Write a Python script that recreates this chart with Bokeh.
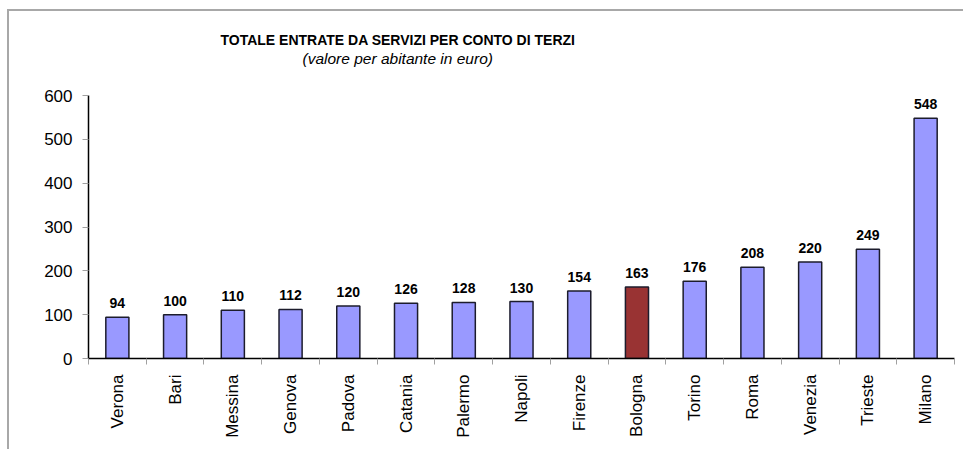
import math
from bokeh.plotting import figure
from bokeh.models import ColumnDataSource, Range1d, FixedTicker, Title
from bokeh.core.properties import value
from bokeh.embed import file_html
from bokeh.resources import INLINE

# ---- data ----
cities = ["Verona", "Bari", "Messina", "Genova", "Padova", "Catania", "Palermo",
          "Napoli", "Firenze", "Bologna", "Torino", "Roma", "Venezia", "Trieste", "Milano"]
values = [94, 100, 110, 112, 120, 126, 128, 130, 154, 163, 176, 208, 220, 249, 548]
y_ticks = [0, 100, 200, 300, 400, 500, 600]
highlight = "Bologna"

title_text = "TOTALE ENTRATE DA SERVIZI PER CONTO DI TERZI"
subtitle_text = "(valore per abitante in euro)"

FONT = "Liberation Sans"

n = len(cities)
xpos = [i + 0.5 for i in range(n)]
fills = ["#993333" if c == highlight else "#9999FF" for c in cities]

src = ColumnDataSource(dict(x=xpos, top=values, fill=fills,
                            label=[str(v) for v in values]))

p = figure(width=956, height=440, output_backend="svg", toolbar_location=None,
           x_range=Range1d(0, n), y_range=Range1d(0, 600),
           min_border_left=79, min_border_right=11, min_border_top=84,
           min_border_bottom=93)
p.margin = (9, 0, 0, 7)
p.styles = {"border-left": "2px solid #a8a8a8", "border-top": "2px solid #a8a8a8"}
p.outline_line_color = None
p.xgrid.grid_line_color = None
p.ygrid.grid_line_color = None
p.background_fill_color = "white"
p.border_fill_color = "white"

p.vbar(x="x", top="top", width=0.4, source=src, fill_color="fill",
       line_color="#1c1c2c", line_width=1.5)

p.text(x="x", y="top", text="label", source=src, text_align="center",
       text_baseline="bottom", y_offset=-9, text_font=value(FONT),
       text_font_size="14px", text_font_style="bold", text_color="black")

# x axis: labels at centers, ticks at category boundaries
xa = p.xaxis[0]
xa.ticker = FixedTicker(ticks=xpos, minor_ticks=list(range(n + 1)))
xa.major_label_overrides = {x: c for x, c in zip(xpos, cities)}
xa.major_label_orientation = math.pi / 2
xa.major_tick_line_color = None
xa.minor_tick_line_color = "#a0a0a0"
xa.minor_tick_out = 6
xa.minor_tick_in = 0
xa.axis_line_color = "black"
xa.axis_line_width = 1.5
xa.major_label_text_font = FONT
xa.major_label_text_font_size = "17px"
xa.major_label_text_color = "black"
xa.major_label_standoff = 10

ya = p.yaxis[0]
ya.ticker = FixedTicker(ticks=y_ticks)
ya.minor_tick_line_color = None
ya.major_tick_line_color = "#a0a0a0"
ya.major_tick_out = 6
ya.major_tick_in = 0
ya.axis_line_color = "black"
ya.axis_line_width = 1.5
ya.major_label_text_font = FONT
ya.major_label_text_font_size = "17px"
ya.major_label_text_color = "black"
ya.major_label_standoff = 10

# titles: spacer nearest the frame, then subtitle, then title
p.add_layout(Title(text=" ", text_font_size="1px", standoff=26), "above")
p.add_layout(Title(text=subtitle_text, align="left", offset=214, text_font=FONT,
                   text_font_size="15.5px", text_font_style="italic",
                   text_color="black", standoff=0), "above")
p.add_layout(Title(text=title_text, align="left", offset=132, text_font=FONT,
                   text_font_size="14px", text_font_style="bold",
                   text_color="black", standoff=0), "above")

open("out.html", "w").write(file_html(p, INLINE))
